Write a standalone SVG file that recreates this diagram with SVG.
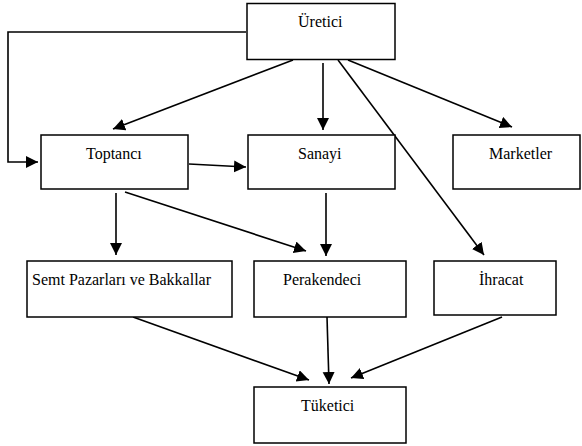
<svg xmlns="http://www.w3.org/2000/svg" width="582" height="446" viewBox="0 0 582 446">
<style>
.box{fill:#fff;stroke:#000;stroke-width:1.5}
.lbl{font-family:'Liberation Serif','Times New Roman','DejaVu Serif',serif;font-size:16px;fill:#000}
.con{fill:none;stroke:#000;stroke-width:1.6}
</style>
<defs>
<marker id="ah" markerUnits="userSpaceOnUse" markerWidth="14" markerHeight="14" refX="12" refY="6" orient="auto">
<path d="M0,0 L12,6 L0,12 Z" fill="#000"/>
</marker>
</defs>
<rect width="582" height="446" fill="#fff"/>
<g id="connectors">
<polyline class="con" points="246,32 8,32 8,162 38,162" marker-end="url(#ah)"/>
<line class="con" x1="293" y1="60" x2="113" y2="129" marker-end="url(#ah)"/>
<line class="con" x1="323" y1="63" x2="323" y2="130" marker-end="url(#ah)"/>
<line class="con" x1="338" y1="60" x2="484" y2="255" marker-end="url(#ah)"/>
<line class="con" x1="348" y1="60" x2="512" y2="127" marker-end="url(#ah)"/>
<line class="con" x1="189" y1="164" x2="246" y2="167" marker-end="url(#ah)"/>
<line class="con" x1="116" y1="193" x2="116" y2="255" marker-end="url(#ah)"/>
<line class="con" x1="125" y1="192" x2="306" y2="251" marker-end="url(#ah)"/>
<line class="con" x1="326" y1="193" x2="326" y2="256" marker-end="url(#ah)"/>
<line class="con" x1="133" y1="317" x2="309" y2="380" marker-end="url(#ah)"/>
<line class="con" x1="327" y1="317" x2="329" y2="384" marker-end="url(#ah)"/>
<line class="con" x1="502" y1="317" x2="351" y2="378" marker-end="url(#ah)"/>
</g>
<g id="uretici"><rect class="box" x="247" y="3.5" width="148" height="56"/><text class="lbl" x="298" y="27" font-family="Liberation Serif, serif">Üretici</text></g>
<g id="toptanci"><rect class="box" x="41" y="135" width="147" height="54"/><text class="lbl" x="86" y="159">Toptancı</text></g>
<g id="sanayi"><rect class="box" x="248" y="135" width="147" height="54"/><text class="lbl" x="298" y="159">Sanayi</text></g>
<g id="marketler"><rect class="box" x="453" y="135" width="127" height="54"/><text class="lbl" x="489" y="159">Marketler</text></g>
<g id="semt"><rect class="box" x="27" y="261" width="205" height="56"/><text class="lbl" x="32" y="285">Semt Pazarları ve Bakkallar</text></g>
<g id="perakendeci"><rect class="box" x="254" y="261" width="152" height="56"/><text class="lbl" x="283" y="285">Perakendeci</text></g>
<g id="ihracat"><rect class="box" x="434" y="261" width="122" height="54"/><text class="lbl" x="479" y="285">İhracat</text></g>
<g id="tuketici"><rect class="box" x="254" y="387" width="152" height="56"/><text class="lbl" x="301" y="411">Tüketici</text></g>
</svg>
